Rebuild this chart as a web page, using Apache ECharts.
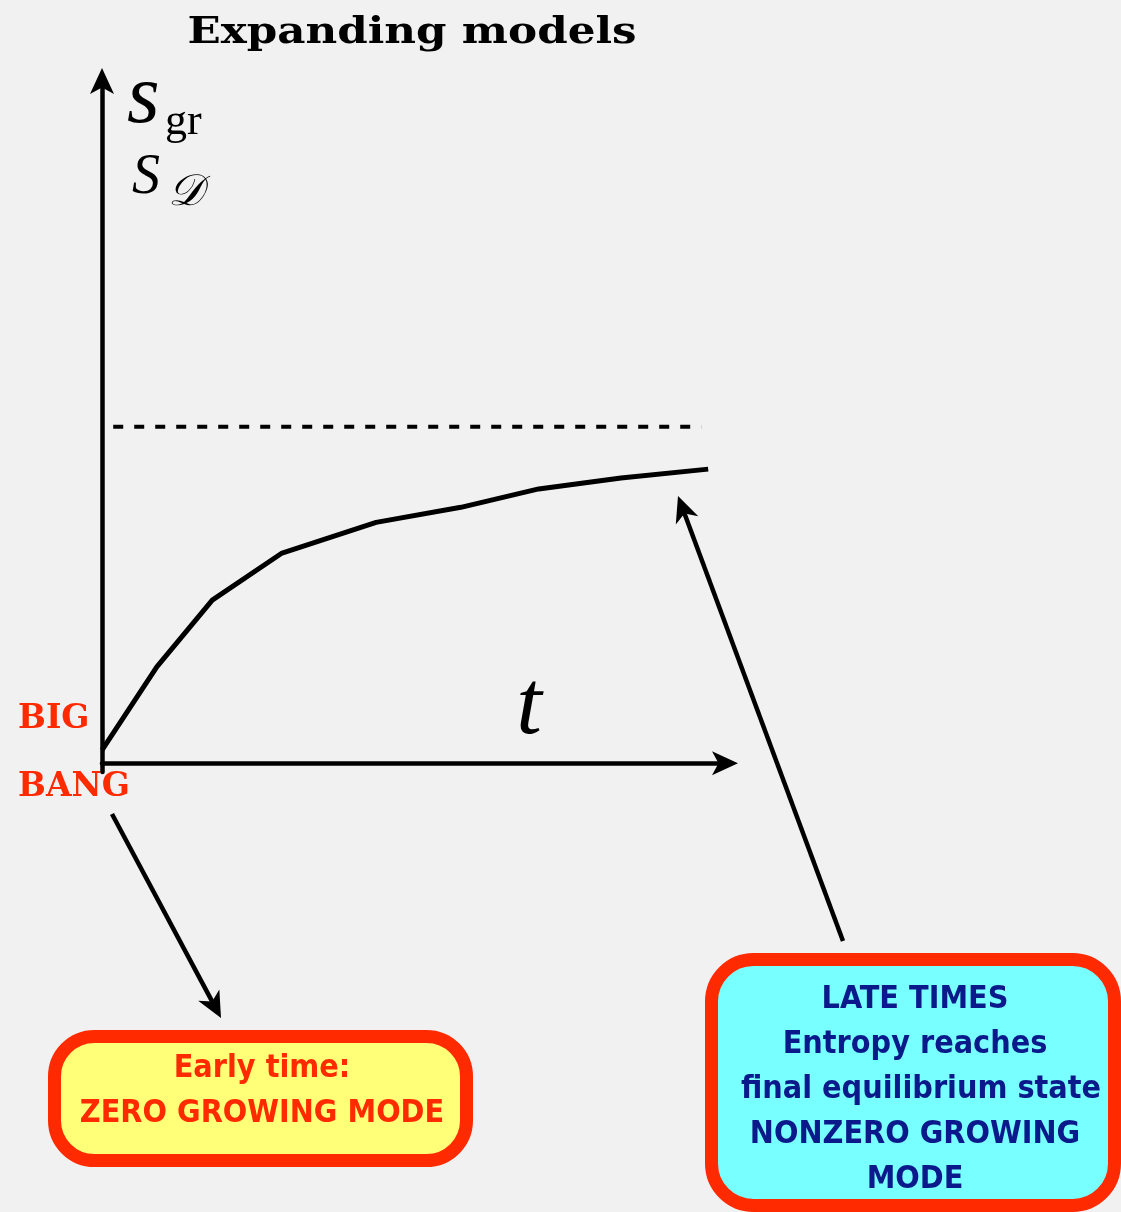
<!DOCTYPE html>
<html>
<head>
<meta charset="utf-8">
<title>Expanding models</title>
<script src="https://cdn.jsdelivr.net/npm/echarts@6/dist/echarts.min.js"></script>
<style>
  html, body { margin: 0; padding: 0; background: #f1f1f1; }
  #chart { width: 1121px; height: 1212px; }
</style>
</head>
<body>
<div id="chart"></div>
<script>
// Entropy growth curve in an expanding model (time t, arbitrary units)
const tValues = [0, 0.88, 1.77, 2.89, 4.40, 5.76, 7.01, 8.33, 9.73];
const entropyValues = [0.19, 1.41, 2.39, 3.08, 3.53, 3.75, 4.02, 4.18, 4.31];

// Final equilibrium level (dashed asymptote)
const equilibriumT = [0.18, 9.62];
const equilibriumS = [4.93, 4.93];

// Axis ranges
const tRange = [0, 10];
const sRange = [-0.13, 10];

const RED = '#ff2a00';
const NAVY = '#0b1a8a';
const BOX_FONT = 'bold 32px "DejaVu Sans Condensed", "DejaVu Sans", sans-serif';

function pairs(xs, ys) {
  return xs.map((x, i) => [x, ys[i]]);
}

// Filled arrowhead pointing from (fx, fy) toward the tip (tx, ty)
function arrowHead(tx, ty, fx, fy, len, half) {
  const a = Math.atan2(ty - fy, tx - fx);
  const bx = tx - len * Math.cos(a), by = ty - len * Math.sin(a);
  const nx = -Math.sin(a), ny = Math.cos(a);
  const notchX = tx - len * 0.72 * Math.cos(a), notchY = ty - len * 0.72 * Math.sin(a);
  return {
    type: 'polygon',
    shape: { points: [[tx, ty], [bx + nx * half, by + ny * half], [notchX, notchY], [bx - nx * half, by - ny * half]] },
    style: { fill: '#000' }
  };
}

function arrow(fx, fy, tx, ty) {
  const a = Math.atan2(ty - fy, tx - fx);
  const ex = tx - 16 * Math.cos(a), ey = ty - 16 * Math.sin(a);
  return [
    { type: 'line', shape: { x1: fx, y1: fy, x2: ex, y2: ey }, style: { stroke: '#000', lineWidth: 4.5 } },
    arrowHead(tx, ty, fx, fy, 26, 12)
  ];
}

function label(text, x, y, font, fill, align) {
  return {
    type: 'text',
    style: { text, x, y, font, fill, align: align || 'center', verticalAlign: 'middle' }
  };
}

const chart = echarts.init(document.getElementById('chart'));

const graphics = [
  // Title (wide slab face, stretched horizontally)
  {
    type: 'text',
    x: 412, y: 33, scaleX: 1.18,
    style: { text: 'Expanding models', x: 0, y: 0, font: 'bold 37px "DejaVu Serif", serif', fill: '#000', align: 'center', verticalAlign: 'middle' }
  },
  // Vertical axis names
  label('s', 127, 100, 'italic 84px "Liberation Serif", serif', '#000', 'left'),
  label('gr', 165, 122, '44px "Liberation Serif", serif', '#000', 'left'),
  label('S', 132, 178, 'italic 56px "Liberation Serif", serif', '#000', 'left'),
  label('\u{1D49F}', 168, 194, 'italic 44px "DejaVu Serif", "Liberation Serif", serif', '#000', 'left'),
  // Horizontal axis name
  label('t', 529, 709, 'italic 92px "Liberation Serif", serif', '#000'),
  // Origin marker
  label('BIG', 18, 719, 'bold 33px "DejaVu Serif", serif', RED, 'left'),
  label('BANG', 18, 787, 'bold 33px "DejaVu Serif", serif', RED, 'left'),
  // Early-time callout
  {
    type: 'rect',
    shape: { x: 54.5, y: 1036.5, width: 412, height: 124, r: 40 },
    style: { fill: '#ffff78', stroke: RED, lineWidth: 13 }
  },
  label('Early time:', 262, 1069, BOX_FONT, RED),
  label('ZERO GROWING MODE', 262, 1114, BOX_FONT, RED),
  // Late-time callout
  {
    type: 'rect',
    shape: { x: 711.5, y: 959.5, width: 403, height: 246, r: 42 },
    style: { fill: '#78ffff', stroke: RED, lineWidth: 13 }
  },
  label('LATE TIMES', 915, 1000, BOX_FONT, NAVY),
  label('Entropy reaches', 915, 1045, BOX_FONT, NAVY),
  label('final equilibrium state', 921, 1090, BOX_FONT, NAVY),
  label('NONZERO GROWING', 915, 1135, BOX_FONT, NAVY),
  label('MODE', 915, 1180, BOX_FONT, NAVY),
  // Pointers
  ...arrow(112, 814, 221, 1018),
  ...arrow(843, 941, 678, 496)
];

const axisLineStyle = {
  symbol: ['none', 'arrow'],
  symbolSize: [18, 26],
  symbolOffset: [0, 13],
  lineStyle: { color: '#000', width: 4.5 }
};

chart.setOption({
  backgroundColor: '#f1f1f1',
  animation: false,
  grid: { left: 102, right: 396, top: 81, bottom: 440, containLabel: false },
  xAxis: {
    type: 'value',
    min: tRange[0],
    max: tRange[1],
    axisLine: Object.assign({ onZero: true }, axisLineStyle),
    axisTick: { show: false },
    axisLabel: { show: false },
    splitLine: { show: false }
  },
  yAxis: {
    type: 'value',
    min: sRange[0],
    max: sRange[1],
    axisLine: Object.assign({ onZero: false }, axisLineStyle),
    axisTick: { show: false },
    axisLabel: { show: false },
    splitLine: { show: false }
  },
  series: [
    {
      name: 'entropy',
      type: 'line',
      data: pairs(tValues, entropyValues),
      smooth: false,
      symbol: 'none',
      lineStyle: { color: '#000', width: 5, join: 'round' }
    },
    {
      name: 'equilibrium',
      type: 'line',
      data: pairs(equilibriumT, equilibriumS),
      symbol: 'none',
      lineStyle: { color: '#000', width: 4, type: [10, 11] }
    }
  ],
  graphic: graphics
});
</script>
</body>
</html>
